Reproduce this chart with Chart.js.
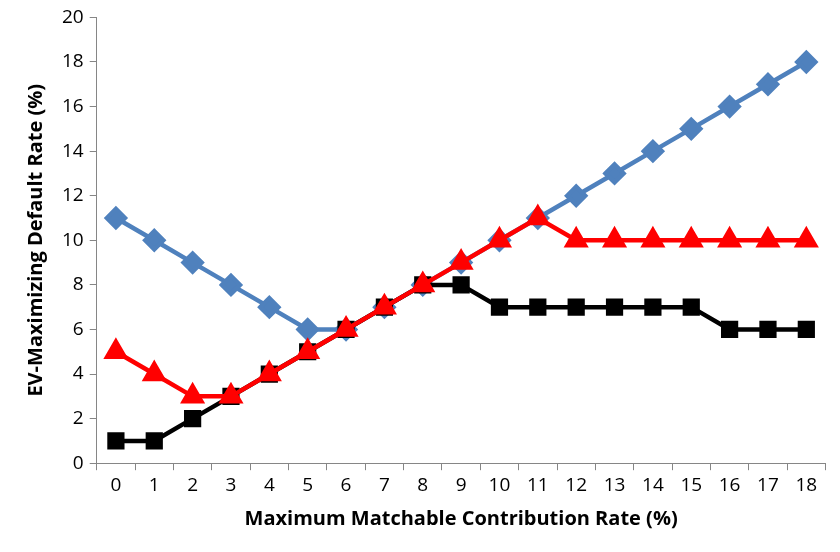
<!DOCTYPE html>
<html>
<head>
<meta charset="utf-8">
<script src="https://cdn.jsdelivr.net/npm/chart.js@4"></script>
<style>
  html, body { margin: 0; padding: 0; background: #fff; }
  #wrap { width: 840px; height: 552px; }
</style>
</head>
<body>
<div id="wrap"><canvas id="chart" width="840" height="552"></canvas></div>
<script>
// valeurs
var categories = ['0','1','2','3','4','5','6','7','8','9','10','11','12','13','14','15','16','17','18'];
var blueSeries = [11,10,9,8,7,6,6,7,8,9,10,11,12,13,14,15,16,17,18];
var redSeries = [5,4,3,3,4,5,6,7,8,9,10,11,10,10,10,10,10,10,10];
var blackSeries = [1,1,2,3,4,5,6,7,8,8,7,7,7,7,7,7,6,6,6];

var ctx = document.getElementById('chart').getContext('2d');
new Chart(ctx, {
    type: 'line',
    data: {
        labels: categories,
        datasets: [
            {
                data: redSeries, borderColor: '#ff0000', backgroundColor: '#ff0000',
                borderWidth: 4.5, pointStyle: 'triangle', pointRadius: 10, order: 1
            },
            {
                data: blackSeries, borderColor: '#000000', backgroundColor: '#000000',
                borderWidth: 4.5, pointStyle: 'rect', pointRadius: 9, order: 2
            },
            {
                data: blueSeries, borderColor: '#4f81bd', backgroundColor: '#4f81bd',
                borderWidth: 4.5, pointStyle: 'rectRot', pointRadius: 9, order: 3
            }
        ]
    },
    options: {
        responsive: false,
        animation: false,
        layout: { padding: { top: 10, right: -12, left: 20, bottom: 17 } },
        plugins: { legend: { display: false }, tooltip: { enabled: false } },
        scales: {
            x: {
                offset: true,
                grid: { display: true, drawOnChartArea: false, offset: true, color: '#868686', tickLength: 7 },
                border: { color: '#868686', width: 1 },
                ticks: { color: '#000', font: { family: 'Open Sans', size: 19 }, maxRotation: 0, padding: 4 },
                title: { display: true, text: 'Maximum Matchable Contribution Rate (%)', color: '#000',
                    font: { family: 'Open Sans', size: 20, weight: 'bold' }, padding: { top: 6 } }
            },
            y: {
                min: 0, max: 20,
                grid: { display: true, drawOnChartArea: false, color: '#868686', tickLength: 7 },
                border: { color: '#868686', width: 1 },
                ticks: { stepSize: 2, color: '#000', font: { family: 'Open Sans', size: 19 }, padding: 6 },
                title: { display: true, text: 'EV-Maximizing Default Rate (%)', color: '#000',
                    font: { family: 'Open Sans', size: 20, weight: 'bold' }, padding: { bottom: 8 } }
            }
        }
    }
});
</script>
</body>
</html>
